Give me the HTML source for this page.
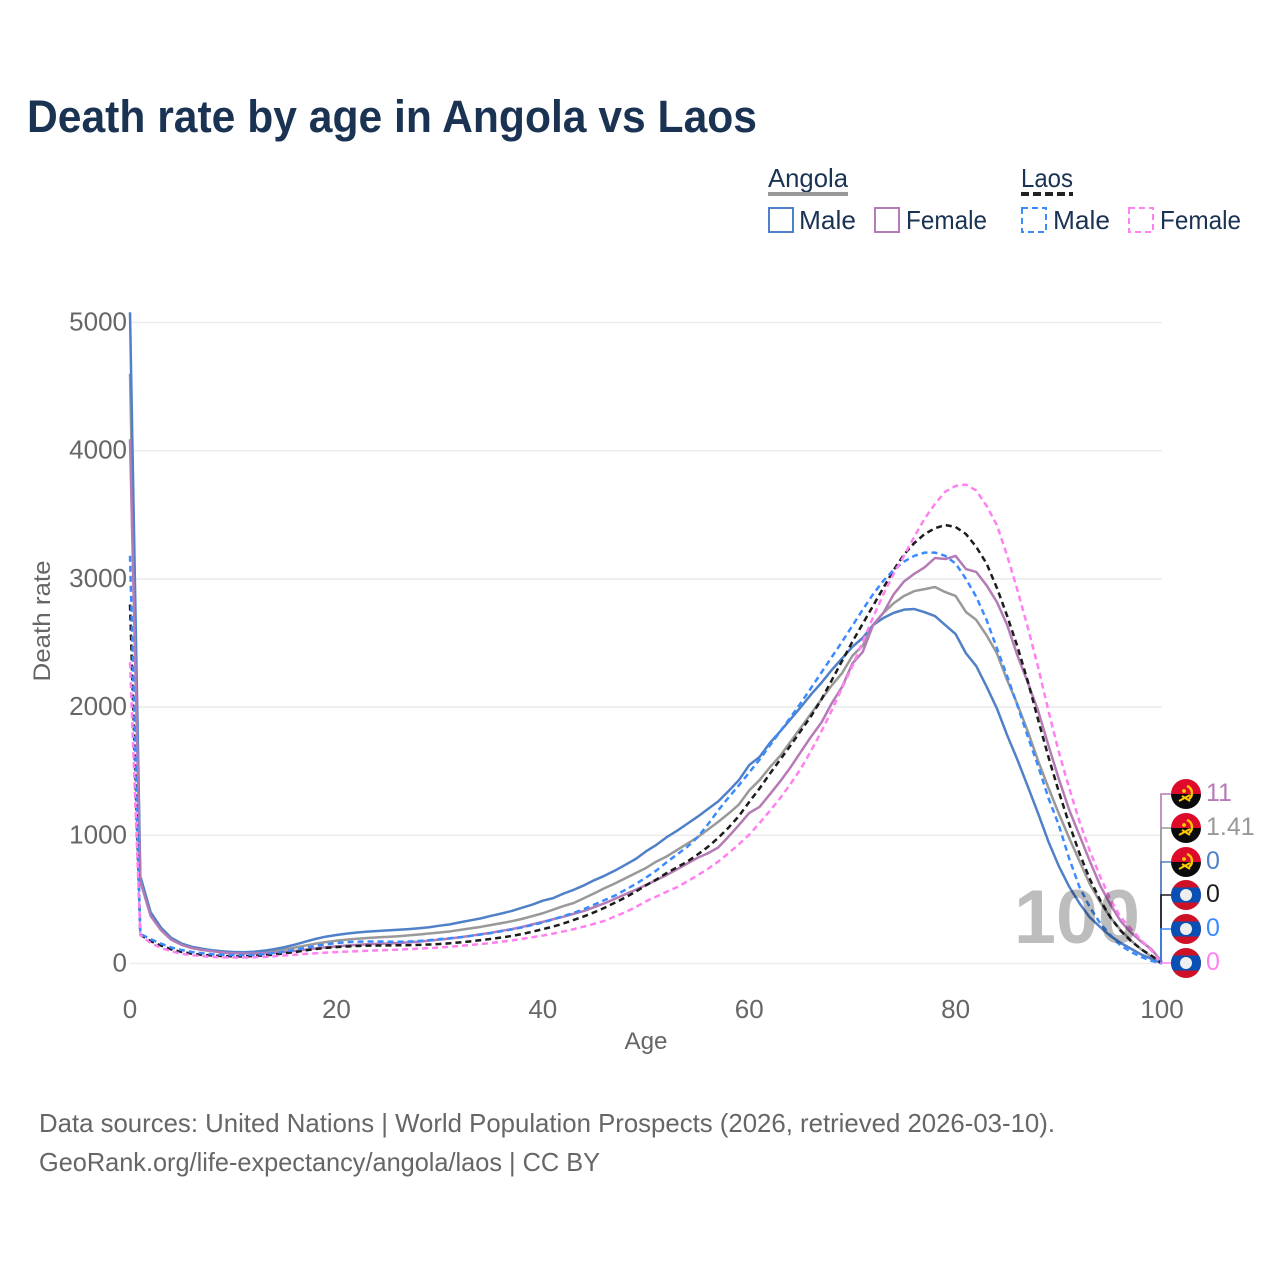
<!DOCTYPE html>
<html lang="en">
<head>
<meta charset="utf-8">
<title>Death rate by age in Angola vs Laos</title>
<style>
html,body{margin:0;padding:0;background:#fff}
svg{display:block}
text{font-family:"Liberation Sans",sans-serif}
</style>
</head>
<body>
<svg id="chart" width="1280" height="1280" viewBox="0 0 1280 1280" xmlns="http://www.w3.org/2000/svg">
<defs>
<clipPath id="flag-clip"><circle cx="0" cy="0" r="15"/></clipPath>
<g id="flag-angola">
<g clip-path="url(#flag-clip)"><rect x="-15" y="-15" width="30" height="15" fill="#de0a2b"/><rect x="-15" y="0" width="30" height="15" fill="#0b0b0b"/></g>
<path d="M1 -8 A7.5 7.5 0 0 1 3 5" fill="none" stroke="#ffcb00" stroke-width="2.4"/>
<path d="M-7 7 L4 1 M-4 2 L4 7" fill="none" stroke="#ffcb00" stroke-width="2"/>
<circle cx="-2" cy="-3" r="1.9" fill="#ffcb00"/>
</g>
<g id="flag-laos">
<g clip-path="url(#flag-clip)"><rect x="-15" y="-15" width="30" height="30" fill="#ce1126"/><rect x="-15" y="-7.5" width="30" height="15" fill="#0a50b4"/></g>
<circle cx="0" cy="0" r="6" fill="#eeeeee"/>
</g>
</defs>

<text x="27" y="132" font-size="45" font-weight="700" fill="#1b3353" textLength="730" lengthAdjust="spacingAndGlyphs">Death rate by age in Angola vs Laos</text>

<g>
<text x="768" y="187" font-size="26" fill="#1b3353" textLength="80" lengthAdjust="spacingAndGlyphs">Angola</text>
<rect x="768" y="192" width="80" height="4" fill="#999999"/>
<text x="1021" y="187" font-size="26" fill="#1b3353" textLength="52" lengthAdjust="spacingAndGlyphs">Laos</text>
<line x1="1021" y1="194" x2="1073" y2="194" stroke="#222222" stroke-width="4" stroke-dasharray="8 4"/>
<g>
<rect x="769" y="208" width="24" height="24" fill="none" stroke="#5080c8" stroke-width="2"/>
<text x="799" y="229" font-size="26" fill="#1b3353" textLength="57" lengthAdjust="spacingAndGlyphs">Male</text>
</g>
<g>
<rect x="875" y="208" width="24" height="24" fill="none" stroke="#b57bb5" stroke-width="2"/>
<text x="906" y="229" font-size="26" fill="#1b3353" textLength="81" lengthAdjust="spacingAndGlyphs">Female</text>
</g>
<g>
<rect x="1022" y="208" width="24" height="24" fill="none" stroke="#3b8bff" stroke-width="2" stroke-dasharray="6 4"/>
<text x="1053" y="229" font-size="26" fill="#1b3353" textLength="57" lengthAdjust="spacingAndGlyphs">Male</text>
</g>
<g>
<rect x="1129" y="208" width="24" height="24" fill="none" stroke="#ff80f0" stroke-width="2" stroke-dasharray="6 4"/>
<text x="1160" y="229" font-size="26" fill="#1b3353" textLength="81" lengthAdjust="spacingAndGlyphs">Female</text>
</g>
</g>

<g id="grid"></g>
<g id="y-ticks"></g>
<g id="x-ticks"></g>
<text transform="translate(50,621) rotate(-90)" text-anchor="middle" font-size="24" fill="#666666" textLength="121" lengthAdjust="spacingAndGlyphs">Death rate</text>
<text x="646" y="1049" text-anchor="middle" font-size="24" fill="#666666" textLength="43" lengthAdjust="spacingAndGlyphs">Age</text>

<g id="series"></g>

<text x="1014" y="943" font-size="76" font-weight="700" fill="#000000" fill-opacity="0.26" textLength="126" lengthAdjust="spacingAndGlyphs">100</text>

<g id="connectors"></g>
<g id="end-labels"></g>

<text x="39" y="1132" font-size="26" fill="#666666" textLength="1016" lengthAdjust="spacingAndGlyphs">Data sources: United Nations | World Population Prospects (2026, retrieved 2026-03-10).</text>
<text x="39" y="1171" font-size="26" fill="#666666" textLength="561" lengthAdjust="spacingAndGlyphs">GeoRank.org/life-expectancy/angola/laos | CC BY</text>

<script>
const ages = [0,1,2,3,4,5,6,7,8,9,10,11,12,13,14,15,16,17,18,19,20,21,22,23,24,25,26,27,28,29,30,31,32,33,34,35,36,37,38,39,40,41,42,43,44,45,46,47,48,49,50,51,52,53,54,55,56,57,58,59,60,61,62,63,64,65,66,67,68,69,70,71,72,73,74,75,76,77,78,79,80,81,82,83,84,85,86,87,88,89,90,91,92,93,94,95,96,97,98,99,100];
const yTickValues = [0,1000,2000,3000,4000,5000];
const xTickValues = [0,20,40,60,80,100];
const angolaAll = [
4600,650,385,270,190,148,122,108,97,90,
85,83,85,90,98,110,125,140,155,168,
178,186,193,199,204,208,213,219,226,234,
242,250,262,274,286,300,315,330,348,370,
392,420,448,472,510,548,588,625,665,705,
745,795,835,885,935,985,1045,1105,1170,1240,
1350,1430,1530,1620,1730,1840,1950,2060,2170,2265,
2400,2480,2640,2735,2810,2867,2905,2920,2937,2897,
2867,2742,2680,2560,2420,2210,2020,1810,1580,1370,
1170,980,800,620,480,360,260,180,110,50,1.41];
const angolaMale = [
5080,680,400,280,200,155,130,115,103,95,
90,88,92,100,112,128,148,170,192,210,
222,233,242,249,254,258,263,268,275,283,
295,305,322,337,352,372,390,410,435,460,
490,510,545,575,610,650,685,725,770,815,
875,925,985,1035,1090,1145,1205,1265,1345,1430,
1548,1611,1720,1810,1905,2000,2100,2190,2290,2380,
2470,2540,2640,2695,2735,2760,2765,2740,2710,2640,
2570,2420,2320,2160,1990,1780,1587,1380,1170,950,
760,600,470,360,285,215,160,115,70,35,0];
const angolaFemale = [
4090,640,370,260,185,145,120,105,95,85,
80,78,78,80,84,90,98,108,118,127,
134,140,145,150,153,156,160,165,171,178,
186,195,205,216,228,240,255,268,285,305,
325,345,365,388,410,440,470,505,540,575,
612,650,690,735,780,825,860,905,990,1080,
1174,1221,1320,1420,1530,1650,1770,1880,2030,2157,
2340,2430,2640,2735,2880,2980,3040,3090,3163,3155,
3179,3077,3054,2950,2820,2640,2400,2190,1970,1700,
1440,1200,1000,800,610,460,330,240,170,110,11];
const laosAll = [
2800,225,175,140,110,90,77,68,62,58,
56,56,58,63,70,80,90,102,113,122,
128,133,137,139,140,141,142,143,145,148,
152,158,165,173,182,192,203,215,230,248,
268,288,312,340,368,400,435,475,515,560,
610,655,705,750,795,850,910,980,1060,1150,
1260,1365,1480,1590,1700,1815,1930,2060,2210,2360,
2510,2650,2790,2930,3070,3190,3280,3350,3395,3420,
3405,3350,3250,3120,2930,2710,2470,2200,1900,1610,
1340,1090,860,660,495,360,255,175,110,60,0];
const laosMale = [
3180,230,190,155,125,105,90,80,72,67,
65,65,68,73,82,93,107,122,137,150,
160,166,170,172,172,170,170,172,176,182,
190,197,205,215,226,238,252,266,282,300,
320,345,370,395,425,460,495,530,575,620,
670,725,790,850,910,985,1085,1195,1295,1390,
1490,1590,1700,1810,1920,2032,2150,2270,2390,2510,
2635,2760,2880,2985,3070,3135,3180,3205,3205,3180,
3120,3000,2860,2680,2460,2240,2010,1770,1540,1290,
1080,820,597,440,316,220,140,90,50,20,0];
const laosFemale = [
2350,220,160,122,95,76,65,57,52,48,
47,47,49,52,57,63,69,75,80,85,
89,93,96,99,102,105,108,112,116,120,
125,131,137,144,152,160,170,180,192,205,
218,233,250,268,288,310,333,368,400,440,
485,522,560,595,640,688,738,795,860,930,
1005,1095,1190,1290,1400,1520,1660,1810,1975,2150,
2320,2510,2700,2880,3040,3180,3330,3470,3585,3680,
3725,3735,3690,3570,3420,3180,2910,2620,2310,1970,
1650,1370,1110,880,680,500,360,270,180,100,0];
const endValueLabels = ["11","1.41","0","0","0","0"];

function xScale(v){ return 130 + v * 10.32; }
function yScale(v){ return 963.5 - v * 0.1282; }

const svgNS = "http://www.w3.org/2000/svg";
function mk(tag, parent, attrs){
  const el = document.createElementNS(svgNS, tag);
  for (const k in attrs) el.setAttribute(k, attrs[k]);
  parent.appendChild(el);
  return el;
}

const gridG = document.getElementById("grid");
const yG = document.getElementById("y-ticks");
const xG = document.getElementById("x-ticks");
yTickValues.forEach(function(v){
  const line = mk("line", gridG, {x1:130, x2:1162, y1:yScale(v), y2:yScale(v), stroke:"#ececec", "stroke-width":1.6});
  
  
  const t = mk("text", yG, {x:127, y:yScale(v)+8, "text-anchor":"end", "font-size":26, fill:"#666666"});
  
  
  t.textContent = String(v);
});
xTickValues.forEach(function(v){
  const t = mk("text", xG, {x:xScale(v), y:1018, "text-anchor":"middle", "font-size":26, fill:"#666666"});
  
  
  t.textContent = String(v);
});

const seriesG = document.getElementById("series");
function drawLine(values, color, dash, name){
  const d = values.map(function(v, i){
    return (i ? "L" : "M") + xScale(ages[i]).toFixed(2) + " " + yScale(v).toFixed(2);
  }).join(" ");
  const p = mk("path", seriesG, {d:d, fill:"none", stroke:color, "stroke-width":2.5, "stroke-linejoin":"round"});
  if (dash) p.setAttribute("stroke-dasharray", dash);
  
  
}
drawLine(angolaAll, "#999999", "", "line-angola-all");
drawLine(angolaMale, "#5080c8", "", "line-angola-male");
drawLine(angolaFemale, "#b57bb5", "", "line-angola-female");
drawLine(laosAll, "#1c1c1c", "6 4", "line-laos-all");
drawLine(laosMale, "#3b8bff", "6 4", "line-laos-male");
drawLine(laosFemale, "#ff80f0", "6 4", "line-laos-female");

const endYs = [794, 828, 862, 895, 929, 963];
const endColors = ["#b57bb5", "#999999", "#5080c8", "#1c1c1c", "#3b8bff", "#ff80f0"];
const endFlags = ["#flag-angola", "#flag-angola", "#flag-angola", "#flag-laos", "#flag-laos", "#flag-laos"];
const endFinals = [angolaFemale, angolaAll, angolaMale, laosAll, laosMale, laosFemale];
const connG = document.getElementById("connectors");
const labelG = document.getElementById("end-labels");
endYs.forEach(function(y, i){
  const last = endFinals[i][endFinals[i].length - 1];
  const conn = mk("path", connG, {d:"M1161 " + yScale(last) + " L1161 " + y + " L1171 " + y, fill:"none", stroke:endColors[i], "stroke-width":1.6});
  
  
  const flag = mk("use", labelG, {href:endFlags[i], transform:"translate(1186," + y + ")"});
  
  
  const t = mk("text", labelG, {x:1206, y:y+7, "font-size":25, fill:endColors[i]});
  
  
  t.textContent = endValueLabels[i];
});
</script>
</svg>
</body>
</html>
